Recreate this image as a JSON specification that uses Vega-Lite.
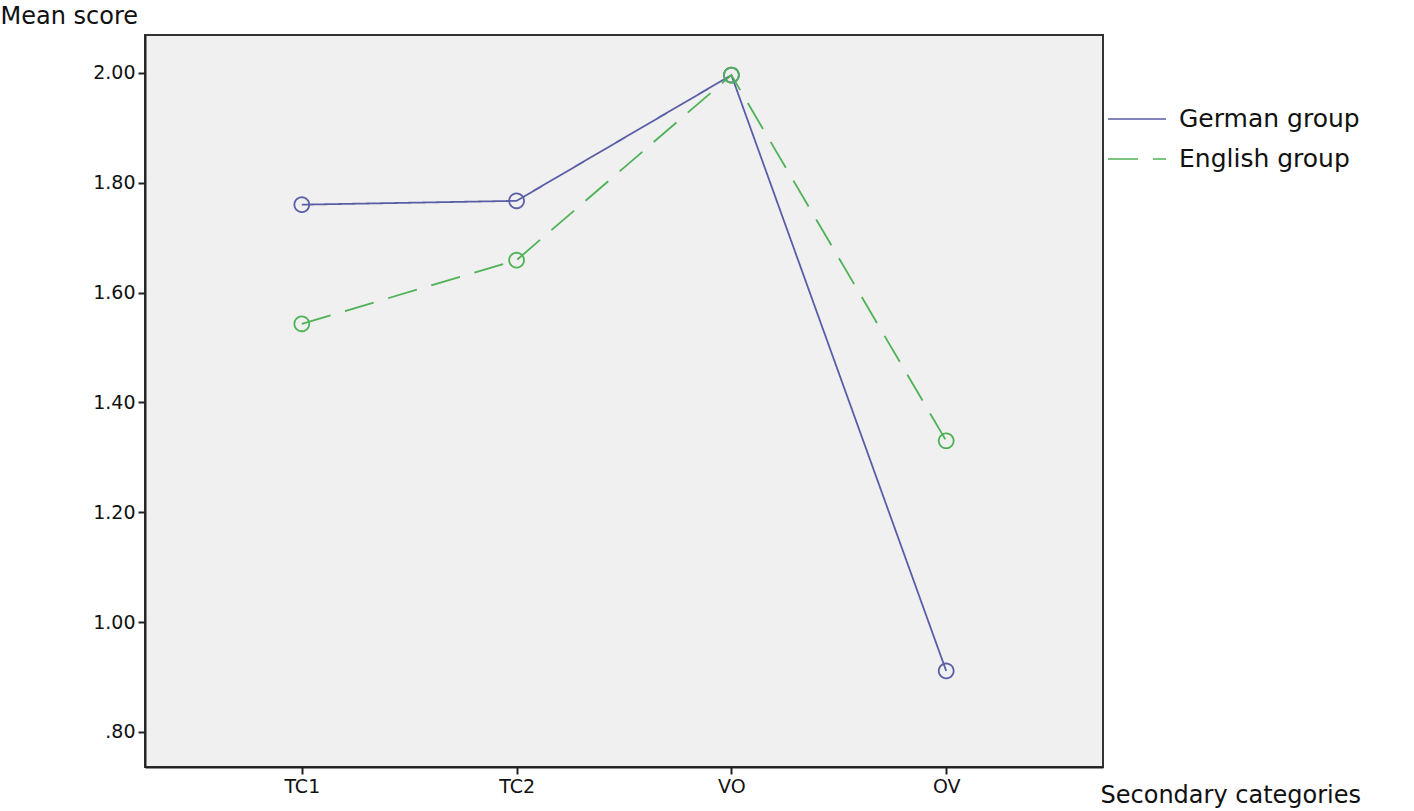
{
  "$schema": "https://vega.github.io/schema/vega-lite/v6.json",
  "width": 958,
  "height": 732,
  "autosize": {"type": "none"},
  "padding": {"left": 145, "top": 35, "right": 311, "bottom": 44},
  "background": "white",
  "view": {"fill": "#f0f0f0", "stroke": "#333333", "strokeWidth": 2},
  "data": {
    "values": [
      {"category": "TC1", "group": "German group", "score": 1.760},
      {"category": "TC2", "group": "German group", "score": 1.767},
      {"category": "VO", "group": "German group", "score": 1.996},
      {"category": "OV", "group": "German group", "score": 0.911},
      {"category": "TC1", "group": "English group", "score": 1.543},
      {"category": "TC2", "group": "English group", "score": 1.659},
      {"category": "VO", "group": "English group", "score": 1.996},
      {"category": "OV", "group": "English group", "score": 1.330}
    ]
  },
  "encoding": {
    "x": {
      "field": "category",
      "type": "ordinal",
      "sort": ["TC1", "TC2", "VO", "OV"],
      "scale": {"type": "point", "padding": 0.73},
      "axis": {
        "title": "Secondary categories",
        "titleFont": "DejaVu Sans",
        "titleFontSize": 24,
        "titleFontWeight": "normal",
        "titleColor": "#111111",
        "titleAlign": "left",
        "titleAnchor": "start",
        "titleBaseline": "alphabetic",
        "titleX": 955,
        "titleY": 35,
        "labelAngle": 0,
        "labelFont": "DejaVu Sans",
        "labelFontSize": 19,
        "labelColor": "#111111",
        "labelPadding": 3,
        "tickSize": 7,
        "tickColor": "#222222",
        "tickWidth": 2,
        "domainColor": "#222222",
        "domainWidth": 2,
        "grid": false
      }
    },
    "y": {
      "field": "score",
      "type": "quantitative",
      "scale": {"domain": [0.736, 2.069], "nice": false, "zero": false},
      "axis": {
        "title": "Mean score",
        "titleFont": "DejaVu Sans",
        "titleFontSize": 24,
        "titleFontWeight": "normal",
        "titleColor": "#111111",
        "titleAngle": 0,
        "titleAlign": "left",
        "titleAnchor": "start",
        "titleBaseline": "alphabetic",
        "titleX": -145,
        "titleY": -12,
        "values": [0.8, 1.0, 1.2, 1.4, 1.6, 1.8, 2.0],
        "labelExpr": "datum.value < 1 ? slice(format(datum.value, '.2f'), 1) : format(datum.value, '.2f')",
        "labelFont": "DejaVu Sans",
        "labelFontSize": 19,
        "labelColor": "#111111",
        "labelPadding": 3,
        "tickSize": 7,
        "tickColor": "#222222",
        "tickWidth": 2,
        "domainColor": "#222222",
        "domainWidth": 2,
        "grid": false
      }
    },
    "color": {
      "field": "group",
      "type": "nominal",
      "sort": ["German group", "English group"],
      "scale": {"domain": ["German group", "English group"], "range": ["#5a5ea6", "#4fb256"]},
      "legend": {
        "title": null,
        "orient": "none",
        "legendX": 971,
        "legendY": 63,
        "symbolType": "M-1.45,0H1.45",
        "symbolSize": 1600,
        "symbolStrokeWidth": 1.6,
        "labelFont": "DejaVu Sans",
        "labelFontSize": 25,
        "labelColor": "#111111",
        "labelOffset": 21,
        "rowPadding": 6,
        "labelLimit": 400,
        "encode": {
          "symbols": {
            "update": {
              "fill": {"value": "transparent"}
            }
          }
        }
      }
    },
    "strokeDash": {
      "field": "group",
      "type": "nominal",
      "sort": ["German group", "English group"],
      "scale": {"domain": ["German group", "English group"], "range": [[1, 0], [30, 15]]},
      "legend": null
    }
  },
  "layer": [
    {"mark": {"type": "line", "strokeWidth": 1.8}},
    {"mark": {"type": "point", "shape": "circle", "filled": false, "size": 220, "strokeWidth": 1.8, "opacity": 1}, "encoding": {"strokeDash": {"value": [1, 0]}}}
  ]
}
